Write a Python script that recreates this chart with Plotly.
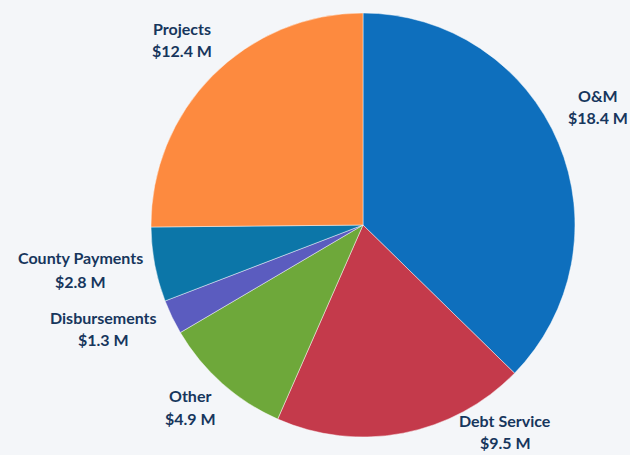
"""Budget breakdown pie chart."""

import plotly.graph_objects as go

# Data ($ millions), clockwise from 12 o'clock
labels = ["O&M", "Debt Service", "Other", "Disbursements", "County Payments", "Projects"]
values = [18.4, 9.5, 4.9, 1.3, 2.8, 12.4]

# Colors
colors = ["#0e6fbd", "#c43a4b", "#6ea83a", "#5b5cbf", "#0c76a8", "#fd8a3f"]
_TEXT_COLOR = "#17365d"
_BG = "#f4f6f9"

# Label block positions in pixels (x center, y of name line, y of value line)
_W, _H = 630, 455
label_pos = {
    "O&M": (598, 95, 118),
    "Debt Service": (505, 420, 442),
    "Other": (190, 395, 418),
    "Disbursements": (103, 317, 339),
    "County Payments": (80, 257, 281),
    "Projects": (182, 28, 50),
}

fig = go.Figure()

fig.add_trace(
    go.Pie(
        labels=labels,
        values=values,
        sort=False,
        direction="clockwise",
        rotation=0,
        marker=dict(colors=colors, line=dict(color="rgba(255,255,255,0.45)", width=1)),
        textinfo="none",
        hovertemplate="%{label}<br>$%{value} M<extra></extra>",
        domain=dict(x=[151 / _W, 575 / _W], y=[1 - 438 / _H, 1 - 12 / _H]),
    )
)

font = dict(family="Lato, Open Sans, sans-serif", size=16, color=_TEXT_COLOR)
for name, val in zip(labels, values):
    px, py1, py2 = label_pos[name]
    for text, py in ((f"<b>{name}</b>", py1), (f"<b>${val} M</b>", py2)):
        fig.add_annotation(
            x=px / _W,
            y=1 - py / _H,
            xref="paper",
            yref="paper",
            text=text,
            showarrow=False,
            font=font,
            xanchor="center",
            yanchor="middle",
        )

fig.update_layout(
    width=_W,
    height=_H,
    margin=dict(l=0, r=0, t=0, b=0),
    paper_bgcolor=_BG,
    plot_bgcolor=_BG,
    showlegend=False,
)

# drop the default page margin so the 630x455 figure fills the window
fig.write_html(
    "out.html",
    config=dict(displayModeBar=False),
    post_script="document.body.style.margin='0';document.body.style.overflow='hidden';",
)
